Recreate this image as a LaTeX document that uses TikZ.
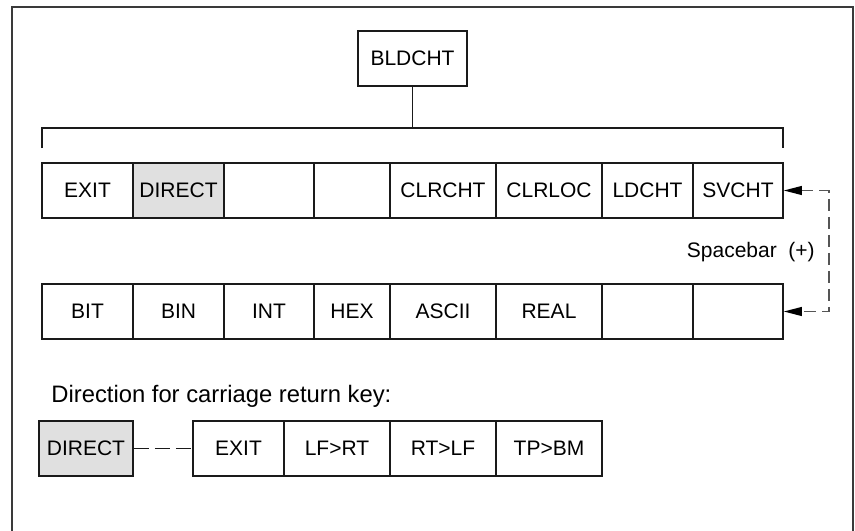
\documentclass[tikz,border=0pt]{standalone}
\usepackage{fontspec}
\setmainfont{Liberation Sans}
\usetikzlibrary{arrows.meta}
\definecolor{ln}{HTML}{1A1A1A}
\definecolor{frm}{HTML}{3A3A3A}
\definecolor{dsh}{HTML}{555555}
\definecolor{hl}{HTML}{E0E0E0}
\tikzset{tiph/.tip={Triangle[length=9pt,width=4.4pt,color=black]}}
\begin{document}
\begin{tikzpicture}[x=0.5pt,y=-0.5pt,
  cell/.style={draw=ln,line width=0.75pt,minimum height=27.5pt,inner sep=0pt,
    font=\fontsize{10.5}{12}\selectfont,text=black},
  grey/.style={cell,fill=hl},
  link/.style={draw=ln,line width=0.6pt},
  dlink/.style={draw=dsh,line width=0.75pt,dash pattern=on 6pt off 3pt}
]
\useasboundingbox (0,0) rectangle (855,530);
% outer frame (open at the bottom)
\draw[frm,line width=1pt] (12,531) -- (12,6.5) -- (853,6.5) -- (853,531);

% top node
\node[cell,minimum width=54.5pt] (bld) at (412.5,58.5) {BLDCHT};

% bracket
\coordinate (bl) at (42,148);
\coordinate (bt) at (42,128);
\coordinate (br) at (783,148);
\draw[link] (bl) -- (bt) -| (br);
\draw[link] (bld.south) -- (bld.south |- bt);

% row 1
\node[cell,minimum width=45.5pt] (a1) at (87.5,190.5) {EXIT};
\node[grey,minimum width=45.5pt] (a2) at (178.5,190.5) {DIRECT};
\node[cell,minimum width=45pt]   (a3) at (269,190.5) {};
\node[cell,minimum width=38pt]   (a4) at (352,190.5) {};
\node[cell,minimum width=53pt]   (a5) at (443,190.5) {CLRCHT};
\node[cell,minimum width=53pt]   (a6) at (549,190.5) {CLRLOC};
\node[cell,minimum width=45.5pt] (a7) at (647.5,190.5) {LDCHT};
\node[cell,minimum width=45pt]   (a8) at (738,190.5) {SVCHT};

% row 2
\node[cell,minimum width=45.5pt] (b1) at (87.5,311.5) {BIT};
\node[cell,minimum width=45.5pt] (b2) at (178.5,311.5) {BIN};
\node[cell,minimum width=45pt]   (b3) at (269,311.5) {INT};
\node[cell,minimum width=38pt]   (b4) at (352,311.5) {HEX};
\node[cell,minimum width=53pt]   (b5) at (443,311.5) {ASCII};
\node[cell,minimum width=53pt]   (b6) at (549,311.5) {REAL};
\node[cell,minimum width=45.5pt] (b7) at (647.5,311.5) {};
\node[cell,minimum width=45pt]   (b8) at (738,311.5) {};

% spacebar loop
\coordinate (sp) at (829,190.5);
\draw[dlink,tiph-tiph]
  (a8.east) -- (sp) |- (b8.east);
\node[anchor=east,inner sep=0pt,font=\fontsize{10.5}{12}\selectfont] (spl) at (815,252) {Spacebar\hspace{0.55em}(+)};

% carriage return section
\node[anchor=base west,inner sep=0pt,font=\fontsize{11.9}{14}\selectfont] (hd) at (51,402) {Direction for carriage return key:};
\node[grey,minimum width=47pt] (d0) at (86,448.5) {DIRECT};
\node[cell,minimum width=45.5pt] (d1) at (238.5,448.5) {EXIT};
\node[cell,minimum width=53pt]   (d2) at (337,448.5) {LF>RT};
\node[cell,minimum width=53pt]   (d3) at (443,448.5) {RT>LF};
\node[cell,minimum width=53pt]   (d4) at (549,448.5) {TP>BM};
\draw[draw=ln,line width=0.6pt,dash pattern=on 7.5pt off 3pt] (d0.east) -- (d1.west);
\end{tikzpicture}
\end{document}
